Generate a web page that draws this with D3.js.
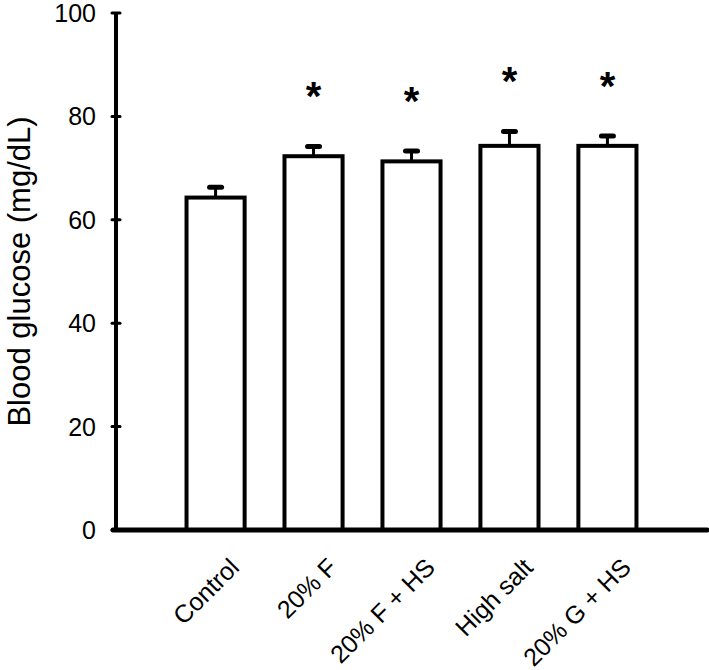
<!DOCTYPE html>
<html>
<head>
<meta charset="utf-8">
<script src="https://cdn.jsdelivr.net/npm/d3@7"></script>
<style>
  body { margin: 0; background: #fff; }
  text { font-family: "Liberation Sans", Arial, sans-serif; fill: #000; }
</style>
</head>
<body>
<svg></svg>
<script>
// chart size
const width = 709;
const height = 670;

// data
const groups = ["Control", "20% F", "20% F + HS", "High salt", "20% G + HS"];
const means = [64.3, 72.3, 71.3, 74.3, 74.3];
const errors = [2.0, 1.9, 2.0, 2.8, 1.9];
const significant = [false, true, true, true, true];
const yTicks = [0, 20, 40, 60, 80, 100];

const x0 = 116, x1 = 707, yTop = 13, yBottom = 530;

const svg = d3.select("svg")
    .attr("width", width)
    .attr("height", height);

const xScale = d3.scaleBand()
    .domain(groups)
    .range([x0, x1])
    .paddingInner(0.407)
    .paddingOuter(0.72);

const yScale = d3.scaleLinear()
    .domain([0, 100])
    .range([yBottom, yTop]);

const rows = groups.map((g, i) => ({ g, m: means[i], e: errors[i], sig: significant[i] }));

// bars (open, black outline)
svg.append("g")
    .selectAll("rect")
    .data(rows)
    .enter().append("rect")
    .attr("x", d => xScale(d.g))
    .attr("y", d => yScale(d.m))
    .attr("width", xScale.bandwidth())
    .attr("height", d => yScale(0) - yScale(d.m))
    .attr("fill", "#fff")
    .attr("stroke", "#000")
    .attr("stroke-width", 4);

// error bars, upper half only
const err = svg.append("g");
err.selectAll("line.stem")
    .data(rows)
    .enter().append("line")
    .attr("class", "stem")
    .attr("x1", d => xScale(d.g) + xScale.bandwidth() / 2)
    .attr("x2", d => xScale(d.g) + xScale.bandwidth() / 2)
    .attr("y1", d => yScale(d.m))
    .attr("y2", d => yScale(d.m + d.e))
    .attr("stroke", "#000")
    .attr("stroke-width", 3);
err.selectAll("line.cap")
    .data(rows)
    .enter().append("line")
    .attr("class", "cap")
    .attr("x1", d => xScale(d.g) + xScale.bandwidth() / 2 - 6)
    .attr("x2", d => xScale(d.g) + xScale.bandwidth() / 2 + 6)
    .attr("y1", d => yScale(d.m + d.e))
    .attr("y2", d => yScale(d.m + d.e))
    .attr("stroke", "#000")
    .attr("stroke-width", 5)
    .attr("stroke-linecap", "round");

// significance stars
svg.append("g")
    .selectAll("text")
    .data(rows.filter(d => d.sig))
    .enter().append("text")
    .attr("x", d => xScale(d.g) + xScale.bandwidth() / 2)
    .attr("y", d => yScale(d.m + d.e) - 36)
    .attr("text-anchor", "middle")
    .style("font-size", "40px")
    .style("font-weight", "bold")
    .text("*");

// y axis
svg.append("line")
    .attr("x1", x0).attr("x2", x0)
    .attr("y1", yScale(100)).attr("y2", yScale(0))
    .attr("stroke", "#000")
    .attr("stroke-width", 4);

const yAxis = svg.append("g");
yAxis.selectAll("line")
    .data(yTicks)
    .enter().append("line")
    .attr("x1", x0 - 4).attr("x2", x0 + 4)
    .attr("y1", d => yScale(d)).attr("y2", d => yScale(d))
    .attr("stroke", "#000")
    .attr("stroke-width", 3)
    .attr("stroke-linecap", "round");
yAxis.selectAll("text")
    .data(yTicks)
    .enter().append("text")
    .attr("x", 96)
    .attr("y", d => yScale(d))
    .attr("dy", "0.36em")
    .attr("text-anchor", "end")
    .style("font-size", "25px")
    .text(d => d);

// x axis
svg.append("line")
    .attr("x1", x0 - 3).attr("x2", x1)
    .attr("y1", yScale(0)).attr("y2", yScale(0))
    .attr("stroke", "#000")
    .attr("stroke-width", 5)
    .attr("stroke-linecap", "round");

svg.append("g")
    .selectAll("text")
    .data(groups)
    .enter().append("text")
    .attr("transform", d => `translate(${xScale(d) + xScale.bandwidth() / 2 + 25},569) rotate(-45)`)
    .attr("text-anchor", "end")
    .style("font-size", "25px")
    .text(d => d);

// y label
svg.append("text")
    .attr("transform", `translate(30,${(yTop + yBottom) / 2}) rotate(-90)`)
    .attr("text-anchor", "middle")
    .style("font-size", "31px")
    .text("Blood glucose (mg/dL)");
</script>
</body>
</html>
